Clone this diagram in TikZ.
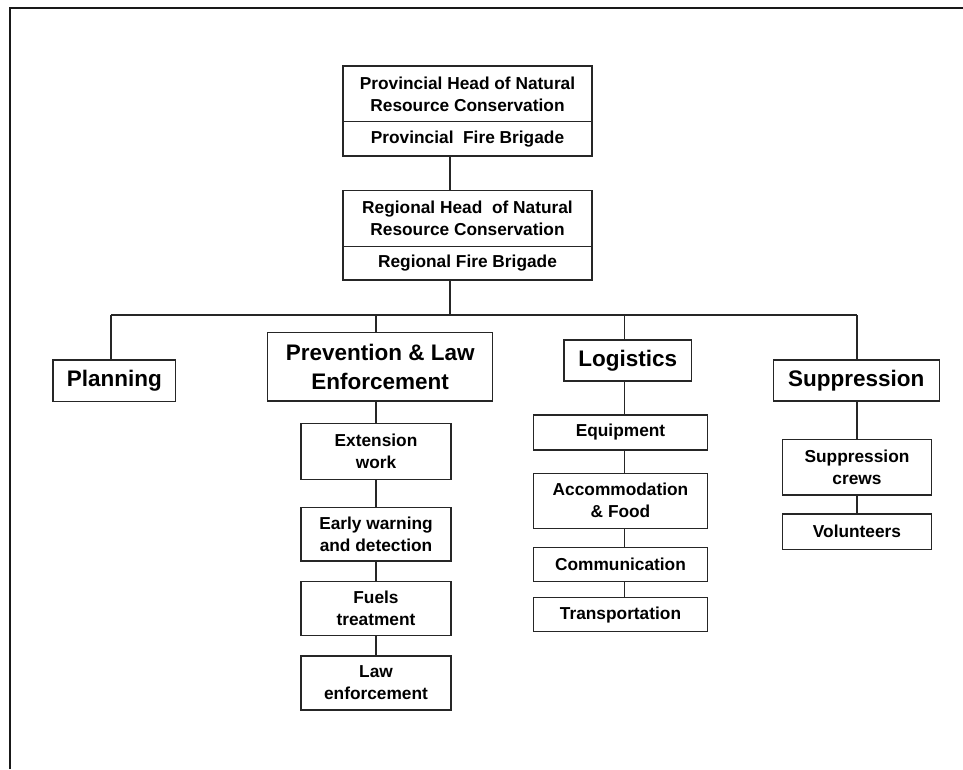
\documentclass[tikz,border=0pt]{standalone}
\usepackage{fontspec}
\setmainfont{Liberation Sans}
\begin{document}
\begin{tikzpicture}[x=1pt,y=-1pt,
  box/.style={draw=black!85, line width=1.5pt, fill=white, inner sep=0pt,
    align=center, font=\fontsize{17.3}{22}\selectfont\bfseries},
  bigbox/.style={box, font=\fontsize{22.5}{29}\selectfont\bfseries},
  link/.style={draw=black!85, line width=1.5pt}]
\useasboundingbox (0,0) rectangle (963,769);
% outer frame (top and left edges)
\draw[line width=2.8pt, black!90] (10,769) -- (10,8) -- (963,8);

% top of the hierarchy
\node[box, minimum width=249pt, minimum height=55.7pt] (prov1) at (467.5,93.85)
  {Provincial Head of Natural\\Resource Conservation};
\node[box, minimum width=249pt, minimum height=34.3pt] (prov2) at (467.5,138.85)
  {Provincial\ \ Fire Brigade};
\node[box, minimum width=249pt, minimum height=56pt] (reg1) at (467.5,218.7)
  {Regional Head\ \ of Natural\\Resource Conservation};
\node[box, minimum width=249pt, minimum height=33.3pt] (reg2) at (467.5,263.35)
  {Regional Fire Brigade};

% branches
\node[bigbox, minimum width=122.7pt, minimum height=41.7pt] (plan) at (114.35,380.85) {Planning};
\node[bigbox, minimum width=225pt, minimum height=68.3pt] (prev) at (380.2,366.85) {Prevention \& Law\\Enforcement};
\node[bigbox, minimum width=127.7pt, minimum height=41pt] (log) at (627.85,360.5) {Logistics};
\node[bigbox, minimum width=166pt, minimum height=41pt] (sup) at (856.3,380.5) {Suppression};

% prevention column
\node[box, minimum width=150pt, minimum height=56pt] (ext) at (376,451.3) {Extension\\work};
\node[box, minimum width=150pt, minimum height=53.7pt] (early) at (376,534.15) {Early warning\\and detection};
\node[box, minimum width=150pt, minimum height=54pt] (fuel) at (376,608.7) {Fuels\\treatment};
\node[box, minimum width=150pt, minimum height=54pt] (law) at (376,683) {Law\\enforcement};

% logistics column
\node[box, minimum width=174.4pt, minimum height=35pt] (equip) at (620.5,432.5) {Equipment};
\node[box, minimum width=174.4pt, minimum height=55pt] (acc) at (620.5,500.8) {Accommodation\\\&\ Food};
\node[box, minimum width=174.4pt, minimum height=34pt] (comm) at (620.5,564.7) {Communication};
\node[box, minimum width=174.4pt, minimum height=34pt] (trans) at (620.5,614.7) {Transportation};

% suppression column
\node[box, minimum width=149.4pt, minimum height=55.7pt] (crews) at (857,467.15) {Suppression\\crews};
\node[box, minimum width=149.4pt, minimum height=35.3pt] (vol) at (857,531.65) {Volunteers};

% bus points
\coordinate (trunk) at (450,315);
\coordinate (b1) at (111,315);
\coordinate (b2) at (376,315);
\coordinate (b3) at (624.3,315);
\coordinate (b4) at (857,315);

% connectors
\draw[link] (prov2.south -| trunk) -- (reg1.north -| trunk);
\draw[link] (reg2.south -| trunk) -- (trunk);
\draw[link] (b1) -- (b4);
\draw[link] (b1) -- (b1 |- plan.north);
\draw[link] (b2) -- (b2 |- prev.north);
\draw[link] (b3) -- (b3 |- log.north);
\draw[link] (b4) -- (b4 |- sup.north);

\draw[link] (prev.south -| ext) -- (ext.north);
\draw[link] (ext.south) -- (early.north);
\draw[link] (early.south) -- (fuel.north);
\draw[link] (fuel.south) -- (law.north);

\draw[link] (log.south -| b3) -- (equip.north -| b3);
\draw[link] (equip.south -| b3) -- (acc.north -| b3);
\draw[link] (acc.south -| b3) -- (comm.north -| b3);
\draw[link] (comm.south -| b3) -- (trans.north -| b3);

\draw[link] (sup.south -| b4) -- (crews.north -| b4);
\draw[link] (crews.south -| b4) -- (vol.north -| b4);
\end{tikzpicture}
\end{document}
